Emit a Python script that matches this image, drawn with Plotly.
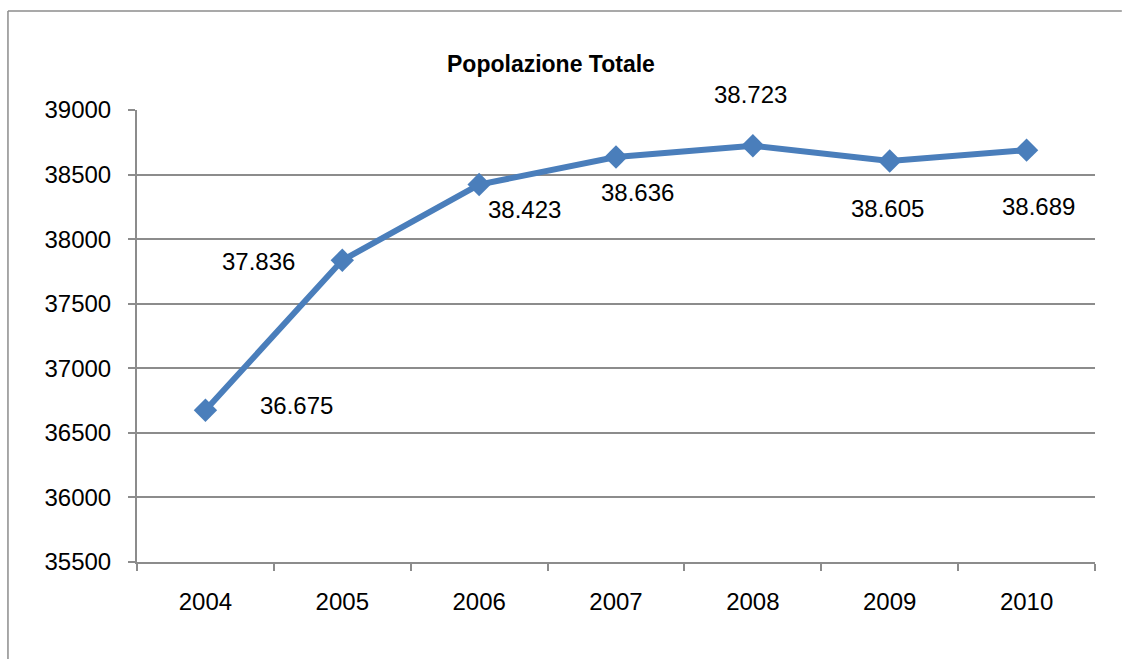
import plotly.graph_objects as go

years = ["2004", "2005", "2006", "2007", "2008", "2009", "2010"]
population = [36675, 37836, 38423, 38636, 38723, 38605, 38689]
value_labels = ["36.675", "37.836", "38.423", "38.636", "38.723", "38.605", "38.689"]
# per-point label offsets in pixels (x, y)
label_offsets = [(91, 5), (-84, -1), (45, -25), (21, -35), (-2, 51), (-2, -47), (12, -56)]

line_color = "#4a7ebb"
grid_color = "#8c8c8c"
font_family = "Liberation Sans, Arial, sans-serif"

fig = go.Figure()
fig.add_trace(go.Scatter(
    x=years, y=population, mode="lines+markers",
    line=dict(color=line_color, width=6),
    marker=dict(symbol="diamond", size=18, color=line_color),
    hoverinfo="skip", showlegend=False,
))

annotations = []
for i, (val, txt, (dx, dy)) in enumerate(zip(population, value_labels, label_offsets)):
    annotations.append(dict(
        x=i, y=val, xref="x", yref="y", text=txt, showarrow=False,
        xanchor="center", yanchor="middle", xshift=dx, yshift=dy,
        font=dict(family=font_family, size=24, color="#000000"),
    ))
annotations.append(dict(
    x=0.432, y=1.102, xref="paper", yref="paper", text="<b>Popolazione Totale</b>",
    xanchor="center", yanchor="middle", showarrow=False,
    font=dict(family=font_family, size=23, color="#000000"),
))

border = dict(color=grid_color, width=1.5)
fig.update_layout(
    width=1122, height=659,
    margin=dict(l=137, r=27, t=110, b=97),
    paper_bgcolor="white", plot_bgcolor="white",
    annotations=annotations,
    shapes=[
        dict(type="line", xref="paper", yref="paper", x0=-0.1347, x1=-0.1347,
             y0=-0.22, y1=1.219, line=border),
        dict(type="line", xref="paper", yref="paper", x0=-0.1347, x1=1.028,
             y0=1.219, y1=1.219, line=border),
    ],
    xaxis=dict(
        type="category", range=[-0.5, 6.5], tickson="boundaries",
        ticks="outside", ticklen=7, tickcolor=grid_color, tickwidth=1.5,
        showline=True, linecolor=grid_color, linewidth=2, showgrid=False,
        tickfont=dict(family=font_family, size=24, color="#000000"),
        ticklabelstandoff=17, fixedrange=True,
    ),
    yaxis=dict(
        range=[35500, 39000], dtick=500, tickformat="d",
        ticks="outside", ticklen=7, tickcolor=grid_color, tickwidth=1.5,
        showline=True, linecolor=grid_color, linewidth=2,
        showgrid=True, gridcolor=grid_color, gridwidth=1.5, zeroline=False,
        tickfont=dict(family=font_family, size=24, color="#000000"),
        ticklabelstandoff=12, fixedrange=True,
    ),
)

fig.write_html("out.html")
